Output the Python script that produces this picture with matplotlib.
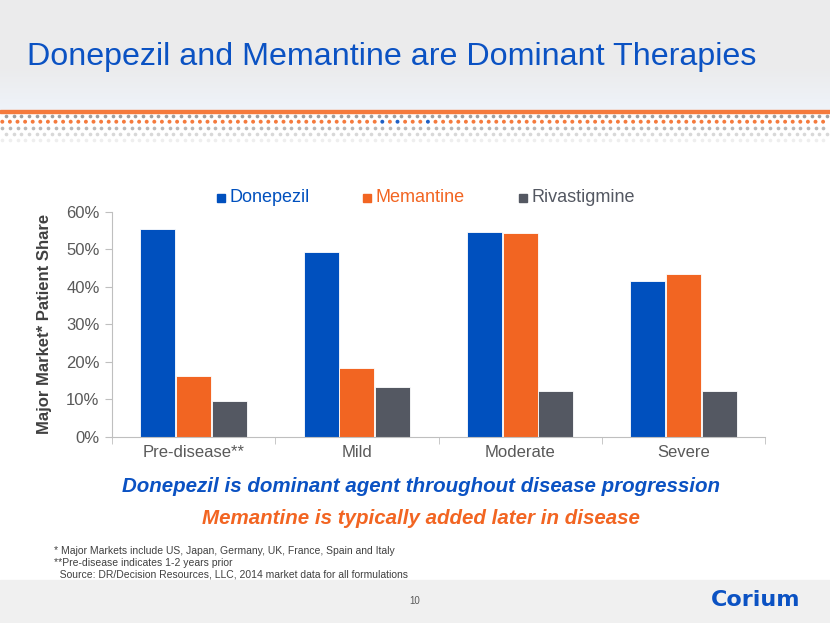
import matplotlib
matplotlib.use("Agg")
import matplotlib.pyplot as plt
import numpy as np
from matplotlib.patches import Rectangle
from matplotlib.colors import to_rgb

plt.rcParams['font.family'] = ['Liberation Sans', 'DejaVu Sans']

categories = ["Pre-disease**", "Mild", "Moderate", "Severe"]
series = ["Donepezil", "Memantine", "Rivastigmine"]
donepezil = [55.5, 49.3, 54.5, 41.5]
memantine = [16.2, 18.2, 54.2, 43.3]
rivastigmine = [9.6, 13.2, 12.3, 12.1]
yticks = [0, 10, 20, 30, 40, 50, 60]
ytick_labels = ["0%", "10%", "20%", "30%", "40%", "50%", "60%"]

colors = ["#0050be", "#f26522", "#545862"]
W, H = 830, 623
fig = plt.figure(figsize=(W / 100, H / 100), dpi=100)

def fx(x):
    return x / W

def fy(y):
    return 1 - y / H

# header background gradient
hax = fig.add_axes([0, fy(110), 1, 110 / H], zorder=0)
hax.axis("off")
c1 = np.array(to_rgb("#ebebec"))
c2 = np.array(to_rgb("#eff3f9"))
t = np.clip((np.linspace(0, 1, 110) - 0.6) / 0.4, 0, 1)[:, None]
grad = c1 * (1 - t) + c2 * t
hax.imshow(grad[:, None, :], aspect="auto", extent=[0, 1, 0, 1])
fig.patches.append(Rectangle((0, fy(113)), 1, 3 / H, transform=fig.transFigure,
                             color="#f57a3c", zorder=1))
# footer background
fig.patches.append(Rectangle((0, 0), 1, 43 / H, transform=fig.transFigure,
                             color="#f0f0f0", zorder=0))

# dotted band
dax = fig.add_axes([0, fy(143), 1, 30 / H])
dax.set_xlim(0, W)
dax.set_ylim(143, 113)
dax.axis("off")
sp = 7.6
xa = np.arange(2.3, W, sp)
xb = xa + sp / 2
rows = [(115.8, xb, "#a0a0a0", 1.0), (128.0, xa, "#a8a8a8", 0.8),
        (134.0, xb, "#b8b8b8", 0.55), (140.0, xa, "#c8c8c8", 0.3)]
for yy, xs, c, a in rows:
    dax.scatter(xs, np.full_like(xs, yy), s=7, marker="o", color=c, alpha=a, linewidths=0)
oc = ["#f57a3c"] * len(xa)
for i, xv in enumerate(xa):
    if abs(xv - 380) < 3.8 or abs(xv - 395) < 3.8 or abs(xv - 426) < 3.8:
        oc[i] = "#1f5fc4"
dax.scatter(xa, np.full_like(xa, 121.7), s=8, marker="o", color=oc, linewidths=0)

# title
fig.text(fx(27), fy(57), "Donepezil and Memantine are Dominant Therapies",
         fontsize=23.2, color="#0b52c3", va="center", ha="left")

# main axes
ax = fig.add_axes([fx(112), fy(436.7), fx(765) - fx(112), (436.7 - 211.7) / H])
x = np.arange(len(categories))
bw = 0.215
for i, (vals, c) in enumerate(zip([donepezil, memantine, rivastigmine], colors)):
    ax.bar(x + (i - 1) * (bw + 0.004), vals, width=bw, color=c, edgecolor="white",
           linewidth=0.6, zorder=2)
ax.set_xlim(-0.5, 3.5)
ax.set_ylim(0, 60)
ax.set_yticks(yticks)
ax.set_yticklabels(ytick_labels, fontsize=12, color="#595959")
ax.set_xticks(x)
ax.set_xticklabels(categories, fontsize=12, color="#595959")
ax.tick_params(axis="x", length=0, pad=6)
ax.set_xticks([-0.5, 0.5, 1.5, 2.5, 3.5], minor=True)
ax.tick_params(axis="x", which="minor", length=5, color="#bfbfbf", direction="out")
ax.tick_params(axis="y", length=5, color="#bfbfbf", pad=4)
for s in ["top", "right"]:
    ax.spines[s].set_visible(False)
for s in ["left", "bottom"]:
    ax.spines[s].set_color("#bfbfbf")
ax.patch.set_alpha(0)
ax.set_ylabel("Major Market* Patient Share", fontsize=12, fontweight="bold",
              color="#404040", labelpad=10)

# legend
leg_x = [217, 363, 519]
for name, c, lx in zip(series, colors, leg_x):
    fig.patches.append(Rectangle((fx(lx), fy(201.5)), 8 / W, 8 / H,
                                 transform=fig.transFigure, color=c))
    fig.text(fx(lx + 12), fy(197.5), name, fontsize=13, color=c, va="center", ha="left")

# subtitles
fig.text(fx(421), fy(486), "Donepezil is dominant agent throughout disease progression",
         fontsize=14.8, fontweight="bold", fontstyle="italic", color="#0b52c3",
         ha="center", va="center")
fig.text(fx(421), fy(519), "Memantine is typically added later in disease",
         fontsize=14.8, fontweight="bold", fontstyle="italic", color="#f26522",
         ha="center", va="center")

# footnotes
notes = ["* Major Markets include US, Japan, Germany, UK, France, Spain and Italy",
         "**Pre-disease indicates 1-2 years prior",
         "  Source: DR/Decision Resources, LLC, 2014 market data for all formulations"]
for i, n in enumerate(notes):
    fig.text(fx(54), fy(551 + i * 11.8), n, fontsize=7.5, color="#404040", va="center", ha="left")

fig.text(fx(415), fy(601), "10", fontsize=7, color="#595959", ha="center", va="center")
fig.text(fx(800), fy(600), "Corium", fontsize=16, fontweight="bold", color="#0b52c3",
         ha="right", va="center", family="DejaVu Sans")

fig.savefig("out.png", dpi=100)
